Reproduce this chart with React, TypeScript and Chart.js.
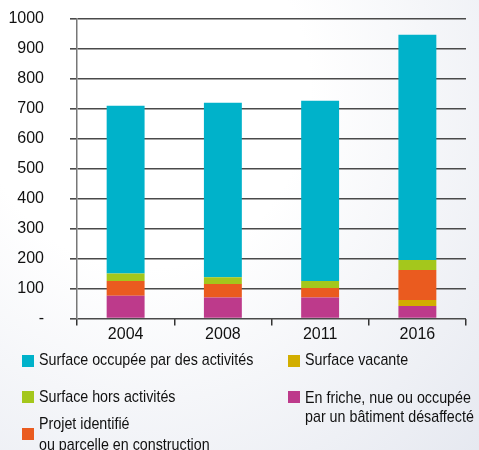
import React, { useEffect, useRef } from 'react';
import { Chart, registerables } from 'chart.js';

Chart.register(...registerables);

const categories = ['2004', '2008', '2011', '2016'];
const friche = [76, 70, 70, 42];
const vacante = [0, 0, 0, 20];
const projet = [49, 45, 32, 100];
const horsActivites = [25, 23, 23, 33];
const occupee = [560, 582, 602, 752];
const yMin = 0;
const yMax = 1000;
const yStep = 100;

const labelOccupee = 'Surface occupée par des activités';
const labelVacante = 'Surface vacante';
const labelHors = 'Surface hors activités';
const labelFriche = ['En friche, nue ou occupée', 'par un bâtiment désaffecté'];
const labelProjet = ['Projet identifié', 'ou parcelle en construction'];

const cCyan = '#00B2CA';
const cGreen = '#A4C71C';
const cOrange = '#EA5B1F';
const cMagenta = '#BD3A8B';
const cYellow = '#D2AE00';

const FONT = "'Liberation Sans', Arial, sans-serif";

export default function App() {
  const ref = useRef<HTMLCanvasElement | null>(null);

  useEffect(() => {
    if (!ref.current) return;
    const chart = new Chart(ref.current, {
      type: 'bar',
      data: {
        labels: categories,
        datasets: [
          { label: labelFriche.join(' '), data: friche, backgroundColor: cMagenta },
          { label: labelVacante, data: vacante, backgroundColor: cYellow },
          { label: labelProjet.join(' '), data: projet, backgroundColor: cOrange },
          { label: labelHors, data: horsActivites, backgroundColor: cGreen },
          { label: labelOccupee, data: occupee, backgroundColor: cCyan },
        ],
      },
      options: {
        responsive: false,
        animation: false,
        maintainAspectRatio: false,
        layout: { padding: { top: 19, right: 13, left: 0, bottom: 0 } },
        datasets: { bar: { categoryPercentage: 1, barPercentage: 0.39 } },
        plugins: { legend: { display: false }, tooltip: { enabled: false } },
        scales: {
          x: {
            stacked: true,
            grid: {
              offset: true,
              drawOnChartArea: false,
              drawTicks: true,
              tickLength: 7,
              color: '#333',
              lineWidth: 1.5,
            },
            border: { display: false },
            ticks: { color: '#111', font: { family: FONT, size: 16 }, padding: -1 },
            afterFit: (s: any) => { s.height = 450 - 318.5; s.paddingLeft = 0; s.paddingRight = 0; },
          },
          y: {
            stacked: true,
            min: yMin,
            max: yMax,
            grid: { color: '#4a4a4a', lineWidth: 1.6, tickLength: 7 },
            border: { display: true, color: '#777', width: 1.5 },
            ticks: {
              stepSize: yStep,
              color: '#111',
              font: { family: FONT, size: 16 },
              padding: 26,
              callback: (v: any) => (Number(v) === 0 ? '-' : String(v)),
            },
            afterFit: (s: any) => { s.width = 77; s.paddingTop = 0; s.paddingBottom = 0; },
          },
        },
      },
    });
    return () => chart.destroy();
  }, []);

  const sq = (color: string, left: number, top: number) => (
    <div style={{ position: 'absolute', left, top, width: 12, height: 12, background: color }} />
  );
  const txt = (lines: string[], left: number, top: number, lh: number) => (
    <div style={{ position: 'absolute', left, top, fontFamily: FONT, fontSize: 17, lineHeight: lh + 'px', color: '#111',
      whiteSpace: 'nowrap', transform: 'scaleX(0.84)', transformOrigin: '0 0' }}>
      {lines.map((l, i) => <div key={i}>{l}</div>)}
    </div>
  );

  return (
    <div style={{ position: 'fixed', left: 0, top: 0, width: 479, height: 450, overflow: 'hidden',
      background: 'radial-gradient(ellipse at 30% 20%, #ffffff 35%, #e4e7ef 105%)' }}>
      <canvas ref={ref} width={479} height={450} style={{ position: 'absolute', left: 0, top: 0 }} />
      {sq(cCyan, 22, 355)}
      {txt([labelOccupee], 39, 350, 20)}
      {sq(cGreen, 22, 391)}
      {txt([labelHors], 39, 387, 20)}
      {sq(cOrange, 22, 428)}
      {txt(labelProjet, 39, 414, 20.5)}
      {sq(cYellow, 288, 355)}
      {txt([labelVacante], 305, 350, 20)}
      {sq(cMagenta, 288, 391)}
      {txt(labelFriche, 305, 387.5, 19)}
    </div>
  );
}
